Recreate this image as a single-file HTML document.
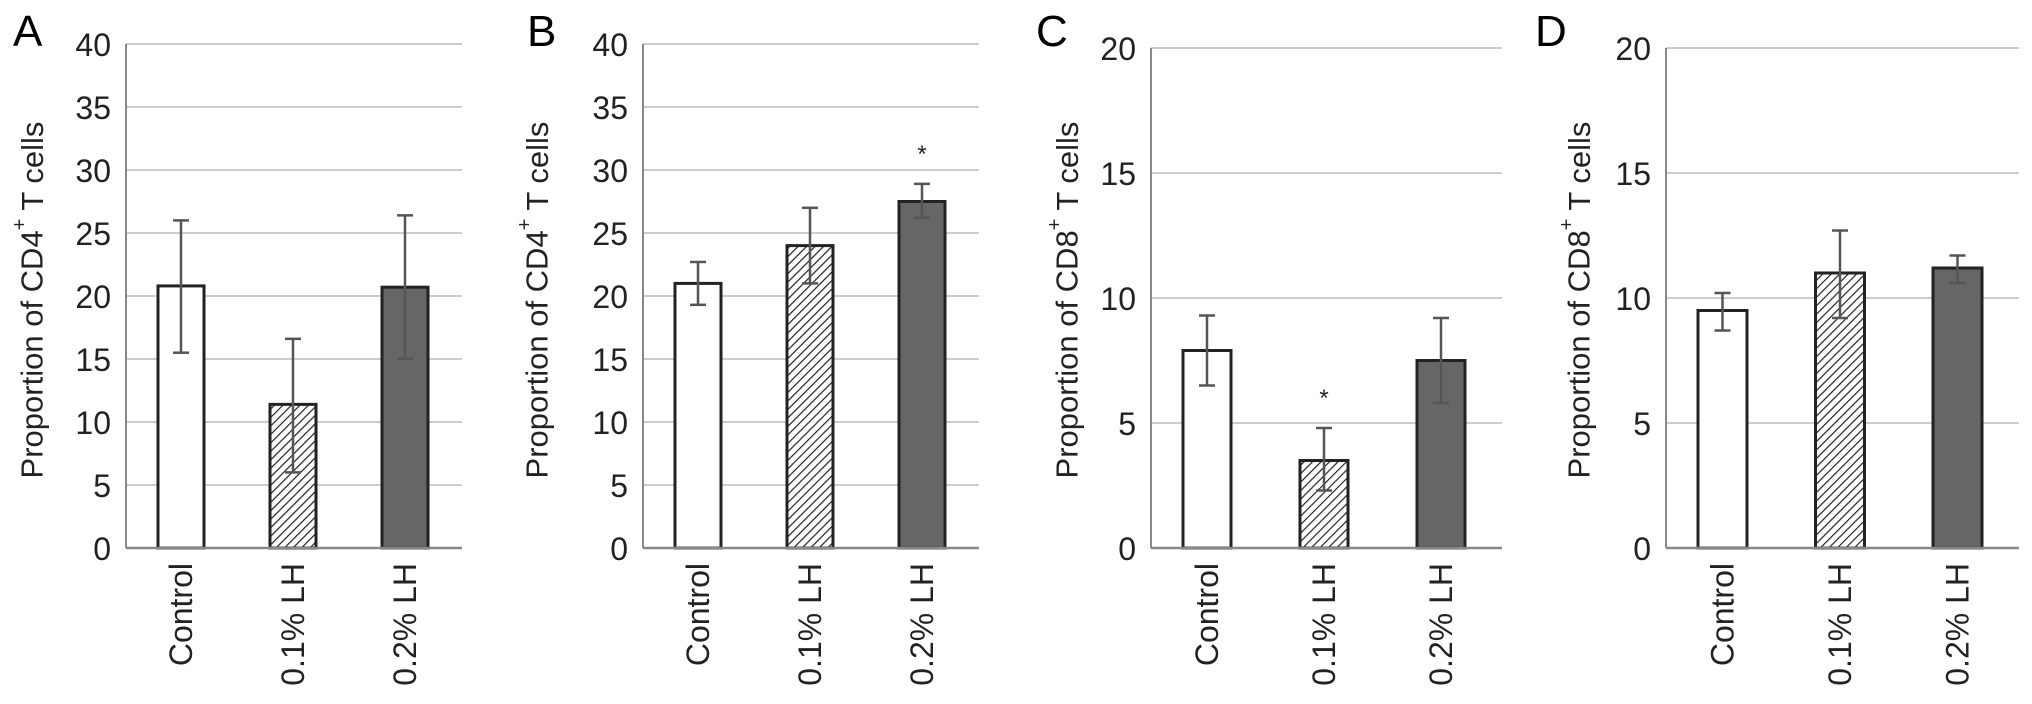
<!DOCTYPE html>
<html><head><meta charset="utf-8"><style>
html,body{margin:0;padding:0;background:#fff;}
svg{display:block;font-family:"Liberation Sans",Arial,sans-serif;}
</style></head><body>
<svg id="fig" width="2032" height="704" viewBox="0 0 2032 704" xmlns="http://www.w3.org/2000/svg">
<defs>
<pattern id="hatch" patternUnits="userSpaceOnUse" width="6" height="6" patternTransform="rotate(45)">
<rect width="6" height="6" fill="#fff"/>
<line x1="0" y1="0" x2="0" y2="6" stroke="#222" stroke-width="2.4"/>
</pattern>
</defs>
</svg>
<script>
const categories = ["Control", "0.1% LH", "0.2% LH"];
const valuesA = [20.8, 11.4, 20.7];
const errLowA = [15.5, 6.0, 15.0];
const errHighA = [26.0, 16.6, 26.4];
const valuesB = [21.0, 24.0, 27.5];
const errLowB = [19.3, 21.0, 26.2];
const errHighB = [22.7, 27.0, 28.9];
const valuesC = [7.9, 3.5, 7.5];
const errLowC = [6.5, 2.3, 5.8];
const errHighC = [9.3, 4.8, 9.2];
const valuesD = [9.5, 11.0, 11.2];
const errLowD = [8.7, 9.2, 10.6];
const errHighD = [10.2, 12.7, 11.7];
const ticksCD4 = [0, 5, 10, 15, 20, 25, 30, 35, 40];
const ticksCD8 = [0, 5, 10, 15, 20];
const starsB = [false, false, true];
const starsC = [false, true, false];

const NS = "http://www.w3.org/2000/svg";
const svg = document.getElementById('fig');
function mk(tag, attrs, parent) {
  const e = document.createElementNS(NS, tag);
  for (const k in attrs) e.setAttribute(k, attrs[k]);
  (parent || svg).appendChild(e);
  return e;
}
const fills = ["#fff", "url(#hatch)", "#666"];
const panels = [
  {id:"a", letter:"A", lx:13, axis:126, right:462, spacing:112, bw:46, max:40, ticks:ticksCD4, vals:valuesA, lo:errLowA, hi:errHighA, stars:null, title:"CD4", ylx:32},
  {id:"b", letter:"B", lx:527, axis:643, right:979, spacing:112, bw:46, max:40, ticks:ticksCD4, vals:valuesB, lo:errLowB, hi:errHighB, stars:starsB, title:"CD4", ylx:537},
  {id:"c", letter:"C", lx:1036, axis:1151, right:1502, spacing:117, bw:48, max:20, ticks:ticksCD8, vals:valuesC, lo:errLowC, hi:errHighC, stars:starsC, title:"CD8", ylx:1067},
  {id:"d", letter:"D", lx:1535, axis:1666, right:2019, spacing:117.5, bw:49, max:20, ticks:ticksCD8, vals:valuesD, lo:errLowD, hi:errHighD, stars:null, title:"CD8", ylx:1579}
];
const Y0 = 548;
panels.forEach(p => {
  const top = p.max === 40 ? 44 : 48;
  const y = v => Y0 - v / p.max * (Y0 - top);
  const x = i => p.axis + 32 + p.bw / 2 + i * p.spacing;
  const g = mk('g', {});
  
  
  const L = mk('text', {x:p.lx, y:46, 'font-size':44, fill:'#000'}, g);
  L.textContent = p.letter;
  
  
  p.ticks.forEach(t => {
    if (t > 0) {
      const gl = mk('line', {x1:p.axis, x2:p.right, y1:y(t), y2:y(t), stroke:'#ccc', 'stroke-width':2}, g);
      
      
    }
    const tl = mk('text', {x:p.axis - 15, y:y(t) + 12, 'font-size':32, 'text-anchor':'end', fill:'#222'}, g);
    tl.textContent = t;
    
    
  });
  const ya = mk('line', {x1:p.axis, x2:p.axis, y1:top, y2:Y0, stroke:'#888', 'stroke-width':2}, g);
  
  
  const yt = mk('text', {x:p.ylx, y:300, 'font-size':31, 'text-anchor':'middle', fill:'#222', transform:'rotate(-90 ' + p.ylx + ' 300)', 'dominant-baseline':'central'}, g);
  yt.innerHTML = 'Proportion of ' + p.title + '<tspan dy="-12" font-size="20">+</tspan><tspan dy="12"> T cells</tspan>';
  
  
  p.vals.forEach((v, i) => {
    const cx = x(i);
    const r = mk('rect', {x:cx - p.bw/2, y:y(v), width:p.bw, height:Y0 - y(v), fill:fills[i], stroke:'#222', 'stroke-width':3}, g);
    
    
    const eg = mk('g', {stroke:'#555', 'stroke-width':2.5}, g);
    
    
    mk('line', {x1:cx, x2:cx, y1:y(p.lo[i]), y2:y(p.hi[i])}, eg);
    mk('line', {x1:cx - 8, x2:cx + 8, y1:y(p.lo[i]), y2:y(p.lo[i])}, eg);
    mk('line', {x1:cx - 8, x2:cx + 8, y1:y(p.hi[i]), y2:y(p.hi[i])}, eg);
    if (p.stars && p.stars[i]) {
      const s = mk('text', {x:cx, y:y(p.hi[i]) - 22, 'font-size':24, 'text-anchor':'middle', fill:'#222'}, g);
      s.textContent = '*';
      
      
    }
    const cl = mk('text', {x:cx, y:563, 'font-size':32, 'text-anchor':'end', fill:'#222', 'dominant-baseline':'central', transform:'rotate(-90 ' + cx + ' 563)'}, g);
    cl.textContent = categories[i];
    
    
  });
  const xa = mk('line', {x1:p.axis, x2:p.right, y1:Y0, y2:Y0, stroke:'#888', 'stroke-width':2.5}, g);
  
  
});
</script>
</body></html>
